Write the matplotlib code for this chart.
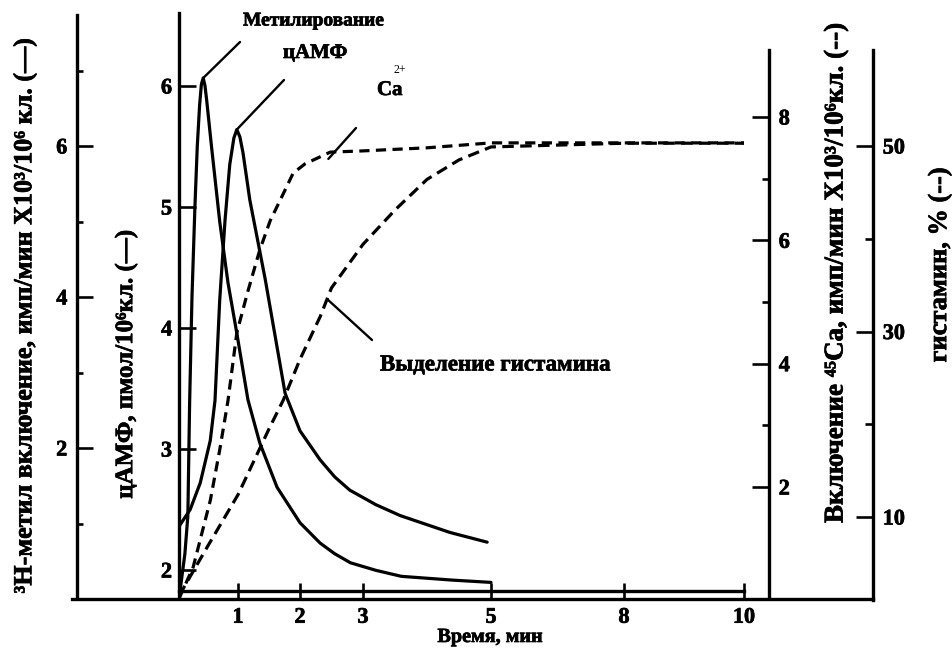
import numpy as np
import matplotlib
matplotlib.use("Agg")
import matplotlib.pyplot as plt
from matplotlib.lines import Line2D
from matplotlib.ticker import NullLocator
import matplotlib.patheffects as pe

plt.rcParams['font.family'] = ['Liberation Serif', 'DejaVu Serif']
plt.rcParams['font.weight'] = 'bold'

# ---------------- data ----------------
time_ticks = [1, 2, 3, 5, 8, 10]
time_tick_labels = ['1', '2', '3', '5', '8', '10']

# 3H-methyl incorporation (left outer axis, solid)
meth_t = [0, 0.10, 0.15, 0.18, 0.22, 0.27, 0.31, 0.35, 0.38, 0.41, 0.44, 0.47, 0.55, 0.62, 0.69,
          0.83, 0.98, 1.16, 1.35, 1.63, 2.0, 2.32, 2.55, 2.8, 3.2, 3.6, 4.4, 5.0]
meth_v = [0.0, 0.6, 1.1, 2.6, 4.0, 5.2, 6.0, 6.55, 6.82, 6.9, 6.8, 6.6, 6.0, 5.5, 5.0,
          4.19, 3.52, 2.64, 2.07, 1.48, 1.01, 0.74, 0.6, 0.48, 0.38, 0.30, 0.25, 0.22]

# cAMP (inner left axis, solid)
camp_t = [0, 0.19, 0.36, 0.53, 0.61, 0.69, 0.78, 0.86, 0.93, 0.98, 1.03, 1.08, 1.19, 1.44,
          1.76, 2.0, 2.32, 2.55, 2.79, 3.2, 3.58, 4.36, 4.94]
camp_v = [2.36, 2.50, 2.72, 3.07, 3.40, 4.23, 4.89, 5.35, 5.57, 5.64, 5.58, 5.45, 5.06, 4.40,
          3.46, 3.15, 2.91, 2.77, 2.66, 2.54, 2.45, 2.31, 2.23]

# 45Ca incorporation (right inner axis, dashed)
ca_t = [0, 0.24, 0.53, 0.69, 0.83, 0.98, 1.15, 1.35, 1.52, 1.68, 1.89, 2.08, 2.27, 2.48,
        3, 4, 5, 8, 10]
ca_v = [0.19, 0.70, 1.78, 2.60, 3.40, 4.50, 5.14, 5.84, 6.32, 6.65, 7.09, 7.24, 7.33, 7.43,
        7.45, 7.50, 7.58, 7.58, 7.58]

# histamine release, % (right outer axis, dashed)
hist_t = [0, 0.5, 1, 1.5, 1.73, 2, 2.32, 2.5, 3, 3.5, 4, 4.5, 5, 8, 10]
hist_v = [1.5, 7.0, 12.4, 19.5, 22.6, 27.0, 31.6, 34.7, 39.4, 43.1, 46.4, 48.5, 49.9, 50.3, 50.3]

meth_major = [2, 4, 6]
meth_minor = [1, 3, 5, 7]
camp_major = [2, 3, 4, 5, 6]
ca_major = [2, 4, 6, 8]
ca_minor = [3, 5, 7]
hist_major = [10, 30, 50]
hist_minor = [20, 40]

# ---------------- layout ----------------
W, H = 952, 649
fig = plt.figure(figsize=(W / 100, H / 100), dpi=100)


def fx(px):
    return px / W


def fy(py):
    return (H - py) / H


ax = fig.add_axes([fx(179), fy(598), fx(744) - fx(179), fy(13) - fy(598)])

# the original uses a non-uniform (piecewise linear) time axis
_tb = [-100, 0, 1, 2, 3, 5, 8, 10, 110]
_pb = [-5900, 0, 59, 121, 184, 312, 445, 565, 6565]


def fwd(t):
    return np.interp(t, _tb, _pb)


def inv(p):
    return np.interp(p, _pb, _tb)


ax.set_xscale('function', functions=(fwd, inv))
ax.set_xlim(0, 10)
ax.set_ylim(1.7686, 6.6033)

ax_h = ax.twinx()
ax_ca = ax.twinx()
ax_hi = ax.twinx()
ax_h.set_ylim(0.01325, 7.7616)
ax_ca.set_ylim(0.2, 9.686)
ax_hi.set_ylim(1.267, 64.34)

LW_AX = 2.4
TICK_FS = 16
for a in (ax, ax_h, ax_ca, ax_hi):
    for s in a.spines.values():
        s.set_visible(False)
        s.set_linewidth(LW_AX)
    a.patch.set_visible(False)

# cAMP axis (inner left)
ax.spines['left'].set_visible(True)
ax.set_yticks(camp_major)
ax.set_yticklabels([str(v) for v in camp_major])
ax.tick_params(axis='y', direction='in', length=12, width=1.9, pad=5, labelsize=TICK_FS)

# time axis
ax.spines['bottom'].set_visible(True)
ax.spines['bottom'].set_position(('data', 1.826))
ax.spines['bottom'].set_bounds(0, 10)
ax.set_xticks(time_ticks)
ax.set_xticklabels(time_tick_labels)
ax.xaxis.set_minor_locator(NullLocator())
ax.tick_params(axis='x', direction='inout', length=12, width=1.9, pad=6, labelsize=TICK_FS)

# 3H-methyl axis (outer left)
ax_h.spines['left'].set_visible(True)
ax_h.spines['left'].set_position(('axes', (77 - 179) / 565))
ax_h.spines['left'].set_bounds(0.01325, 7.735)
ax_h.yaxis.set_ticks_position('left')
ax_h.set_yticks(meth_major)
ax_h.set_yticklabels([str(v) for v in meth_major])
ax_h.set_yticks(meth_minor, minor=True)
ax_h.tick_params(axis='y', which='major', direction='in', length=11.5, width=1.9, pad=7, labelsize=TICK_FS)
ax_h.tick_params(axis='y', which='minor', direction='in', length=4.5, width=1.9)

# 45Ca axis (inner right)
ax_ca.spines['right'].set_visible(True)
ax_ca.spines['right'].set_position(('axes', (769 - 179) / 565))
ax_ca.spines['right'].set_bounds(0.2, 9.086)
ax_ca.set_yticks(ca_major)
ax_ca.set_yticklabels([str(v) for v in ca_major])
ax_ca.set_yticks(ca_minor, minor=True)
ax_ca.tick_params(axis='y', which='major', direction='in', length=12, width=1.9, pad=7, labelsize=TICK_FS)
ax_ca.tick_params(axis='y', which='minor', direction='in', length=5, width=1.9)

# histamine axis (outer right)
ax_hi.spines['right'].set_visible(True)
ax_hi.spines['right'].set_position(('axes', (873 - 179) / 565))
ax_hi.spines['right'].set_bounds(1.0, 60.35)
ax_hi.set_yticks(hist_major)
ax_hi.set_yticklabels([str(v) for v in hist_major])
ax_hi.set_yticks(hist_minor, minor=True)
ax_hi.tick_params(axis='y', which='major', direction='in', length=12, width=1.9, pad=7, labelsize=TICK_FS)
ax_hi.tick_params(axis='y', which='minor', direction='in', length=6, width=1.9)

heavy = [pe.withStroke(linewidth=0.5, foreground='black')]
for a in (ax, ax_h, ax_ca, ax_hi):
    for lab in a.get_xticklabels() + a.get_yticklabels():
        lab.set_fontweight('bold')
        lab.set_path_effects(heavy)

# curves
LW = 2.3
ax_h.plot(meth_t, meth_v, color='black', lw=LW, solid_joinstyle='round', solid_capstyle='round')
ax.plot(camp_t, camp_v, color='black', lw=LW, solid_joinstyle='round', solid_capstyle='round')
ax_ca.plot(ca_t, ca_v, color='black', lw=LW, linestyle=(0, (3.2, 2.0)))
ax_hi.plot(hist_t, hist_v, color='black', lw=LW, linestyle=(0, (3.6, 2.0)))

# outer base line across all axes
fig.add_artist(Line2D([fx(72), fx(873)], [fy(598.5), fy(598.5)], transform=fig.transFigure,
                      color='black', lw=LW_AX))

# annotations (leader lines)
lp = dict(arrowstyle='-', lw=1.7, color='black', shrinkA=0, shrinkB=0)
ax_h.annotate('', xy=(0.41, 6.9), xytext=(240, H - 42), textcoords='figure pixels', arrowprops=lp)
ax.annotate('', xy=(0.98, 5.64), xytext=(284, H - 80), textcoords='figure pixels', arrowprops=lp)
ax_ca.annotate('', xy=(2.45, 7.32), xytext=(356, H - 128), textcoords='figure pixels', arrowprops=lp)
ax_hi.annotate('', xy=(2.43, 33.5), xytext=(372, H - 340), textcoords='figure pixels', arrowprops=lp)

T = dict(fontweight='bold', path_effects=heavy)
fig.text(fx(243), fy(21), 'Метилирование', ha='left', va='center', fontsize=14, **T)
fig.text(fx(283), fy(53), 'цАМФ', ha='left', va='center', fontsize=15, **T)
fig.text(fx(377), fy(90), 'Ca', ha='left', va='center', fontsize=15, **T)
fig.text(fx(394), fy(70), '2+', ha='left', va='center', fontsize=8.5, fontweight='normal')
fig.text(fx(380), fy(365), 'Выделение гистамина', ha='left', va='center', fontsize=16.5, **T)

# axis titles
fig.text(fx(490), fy(637), 'Время, мин', ha='center', va='center', fontsize=14.5, **T)
fig.text(fx(25), fy(316), '³Н-метил включение, имп/мин X10³/10⁶ кл. (—)', rotation=90,
         ha='center', va='center', fontsize=18.8, **T)
fig.text(fx(126), fy(364), 'цАМФ, пмол/10⁶кл. (—)', rotation=90,
         ha='center', va='center', fontsize=18, **T)
fig.text(fx(836), fy(272), 'Включение ⁴⁵Са, имп/мин X10³/10⁶кл. (--)', rotation=90,
         ha='center', va='center', fontsize=19.5, **T)
fig.text(fx(940), fy(265), 'гистамин, % (--)', rotation=90,
         ha='center', va='center', fontsize=19, **T)

fig.savefig('out.png', dpi=100)
